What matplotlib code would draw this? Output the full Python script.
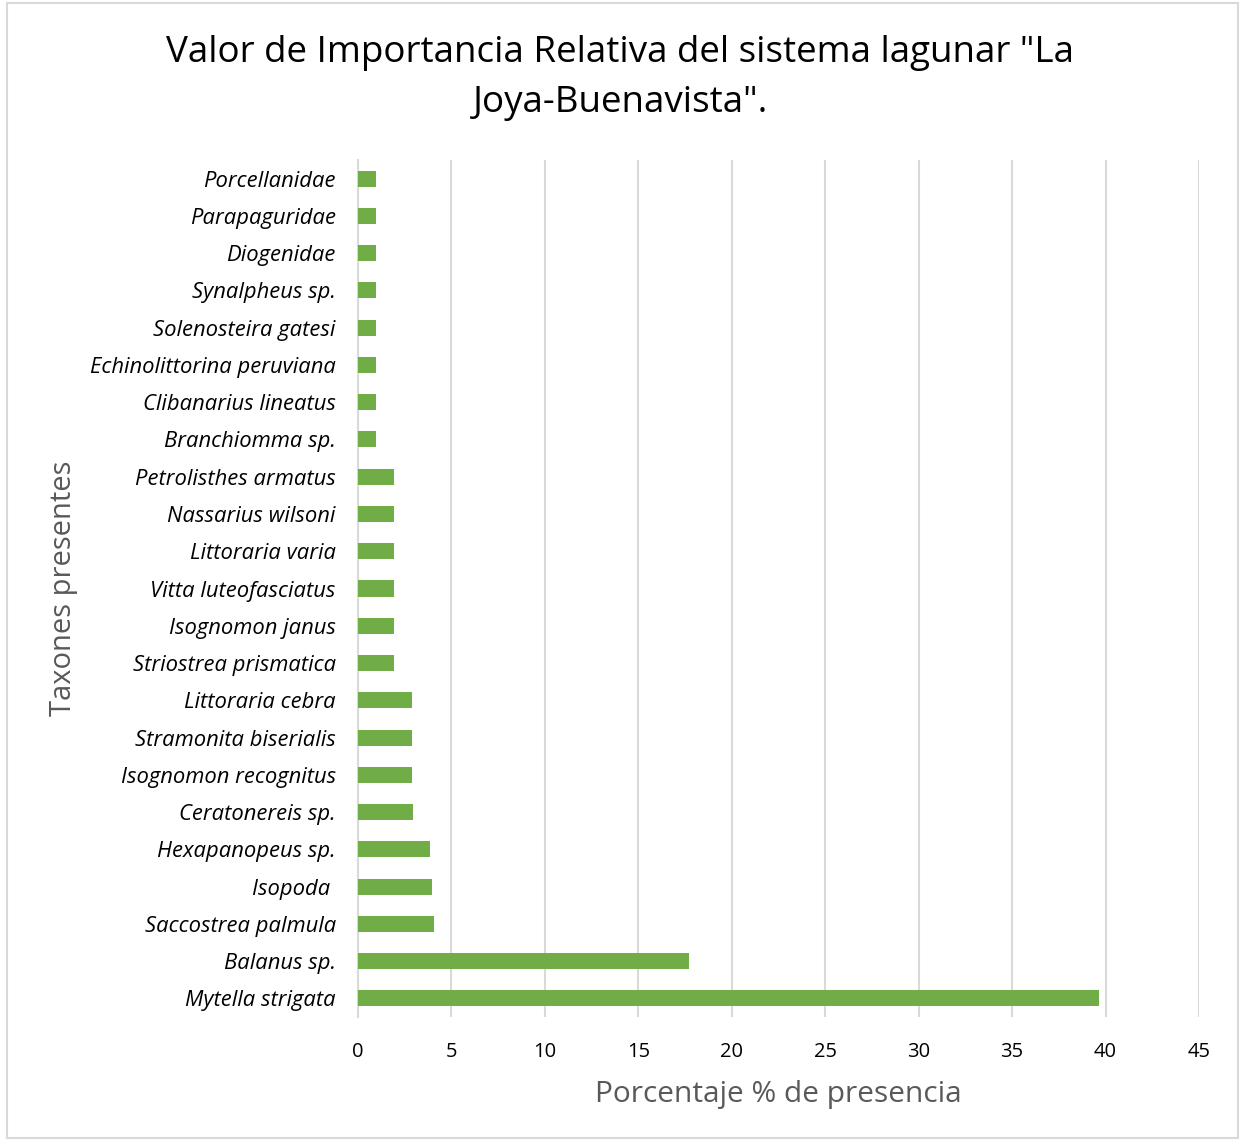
import matplotlib.pyplot as plt
from matplotlib.patches import Rectangle

# Taxa listed bottom-to-top (barh draws index 0 at the bottom)
taxones = [
    "Mytella strigata", "Balanus sp.", "Saccostrea palmula", "Isopoda ",
    "Hexapanopeus sp.", "Ceratonereis sp.", "Isognomon recognitus",
    "Stramonita biserialis", "Littoraria cebra", "Striostrea prismatica",
    "Isognomon janus", "Vitta luteofasciatus", "Littoraria varia",
    "Nassarius wilsoni", "Petrolisthes armatus", "Branchiomma sp.",
    "Clibanarius lineatus", "Echinolittorina peruviana", "Solenosteira gatesi",
    "Synalpheus sp.", "Diogenidae", "Parapaguridae", "Porcellanidae",
]
porcentaje = [
    39.64, 17.71, 4.05, 3.96,
    3.87, 2.92, 2.89,
    2.89, 2.89, 1.94,
    1.94, 1.94, 1.94,
    1.92, 1.91, 0.96,
    0.96, 0.96, 0.96,
    0.96, 0.96, 0.96, 0.96,
]
xticks = [0, 5, 10, 15, 20, 25, 30, 35, 40, 45]

plt.rcParams['font.family'] = ['Open Sans', 'DejaVu Sans']

fig = plt.figure(figsize=(12.41, 11.41), dpi=100)
ax = fig.add_axes([358 / 1241, 1 - 1017 / 1141, 841 / 1241, 857 / 1141])

ax.barh(range(len(taxones)), porcentaje, height=0.43, color='#70AD47', zorder=3)

ax.set_xlim(0, 45)
ax.set_ylim(-0.5, len(taxones) - 0.5)
ax.set_xticks(xticks)
ax.set_xticklabels([str(t) for t in xticks], fontsize=14.5, color='#000000')
ax.set_yticks(range(len(taxones)))
ax.set_yticklabels(taxones, fontsize=15.8, style='italic', color='#000000')
ax.tick_params(axis='both', length=0)
ax.tick_params(axis='x', pad=18)
ax.tick_params(axis='y', pad=16)

ax.grid(axis='x', color='#d9d9d9', linewidth=1.5, zorder=0)
for side in ['top', 'right', 'bottom']:
    ax.spines[side].set_visible(False)
ax.spines['left'].set_color('#d9d9d9')
ax.spines['left'].set_linewidth(1.5)

ax.set_xlabel('Porcentaje % de presencia', fontsize=21.5, color='#595959', labelpad=13)
fig.text(63 / 1241, 1 - 588 / 1141, 'Taxones presentes', rotation=90,
         fontsize=21, color='#595959', ha='center', va='center')

fig.text(0.5, 1 - 78 / 1141,
         'Valor de Importancia Relativa del sistema lagunar "La\nJoya-Buenavista".',
         fontsize=26.5, ha='center', va='center', linespacing=1.5, color='#000000')

# light frame around the whole chart
fig.patches.append(Rectangle((7 / 1241, 3 / 1141), 1231 / 1241, 1135 / 1141,
                             transform=fig.transFigure, fill=False,
                             edgecolor='#d9d9d9', linewidth=1.5))

fig.savefig('out.png', dpi=100)
